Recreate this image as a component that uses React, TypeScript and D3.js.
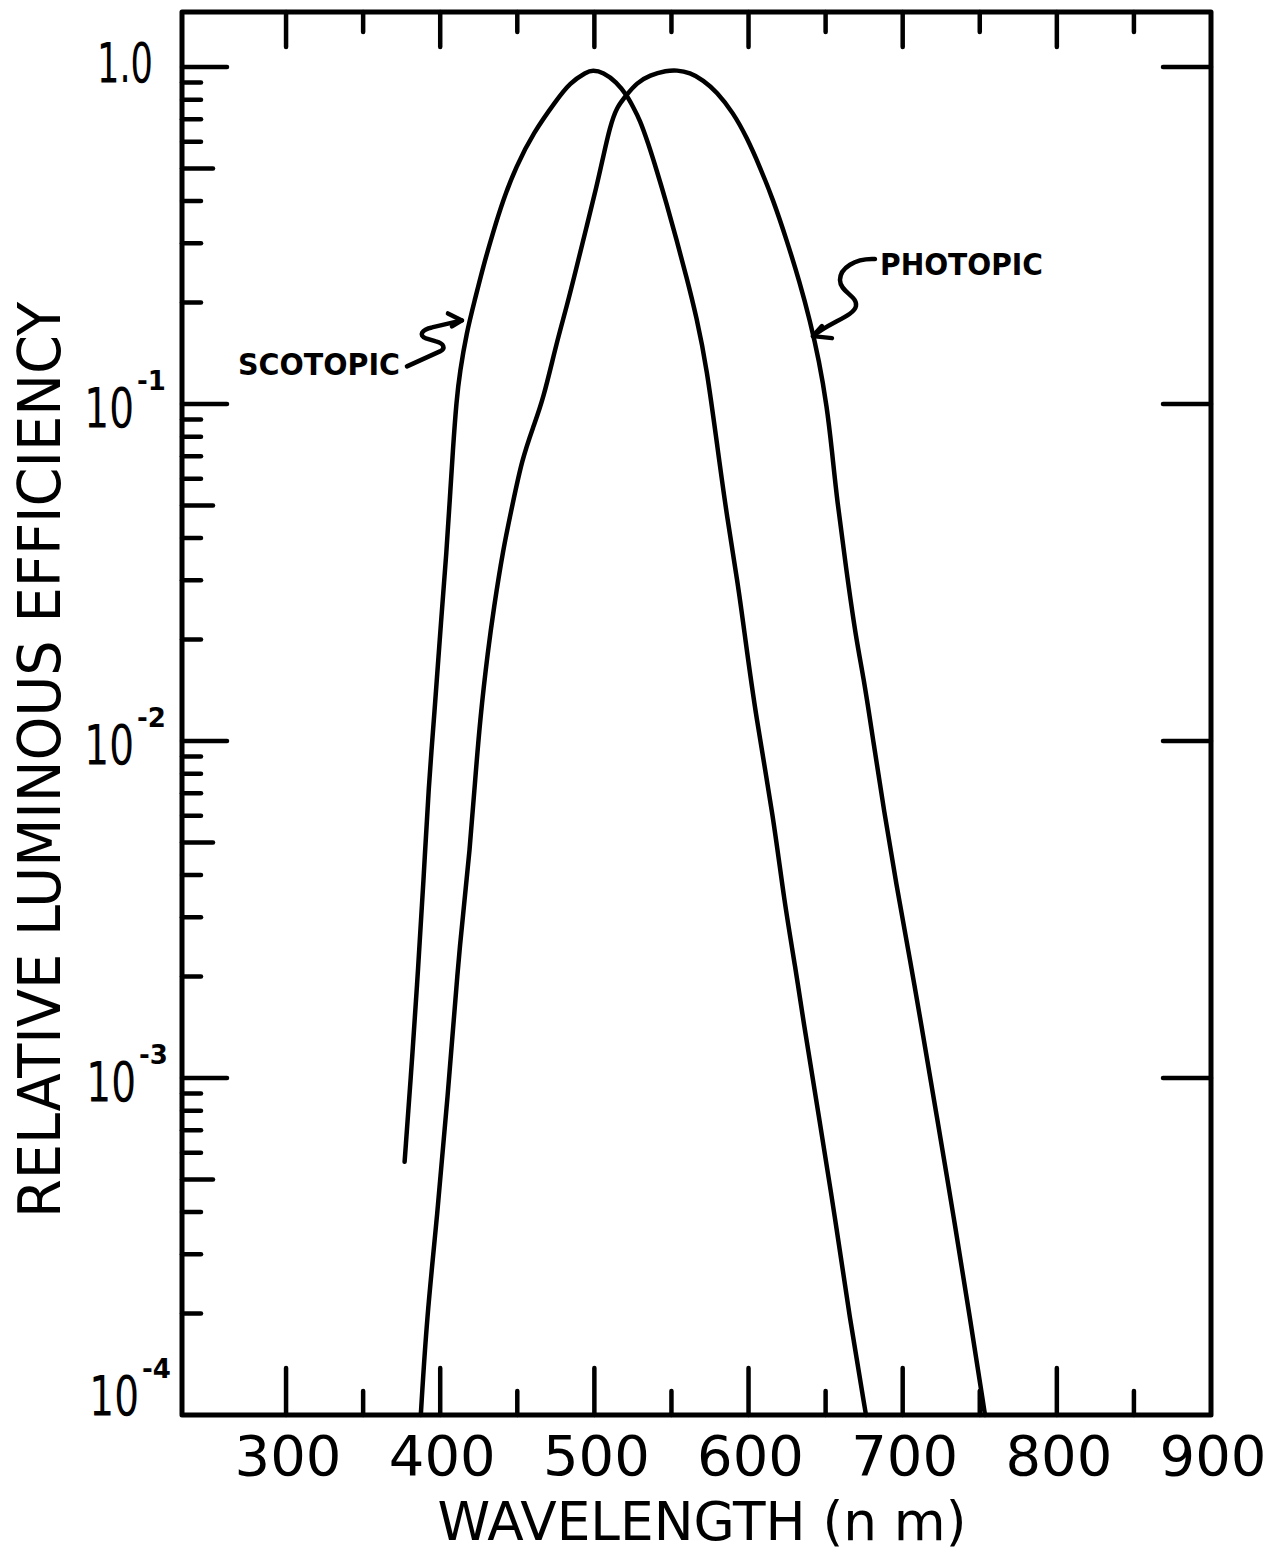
import React from 'react';
import * as d3 from 'd3';

// ---------- data ----------
const scotopicWavelength = [
  376.9, 382.2, 385.6, 389.1, 392.6, 396.1, 400.7, 404.2, 406.2, 408.2, 410.6, 412.7,
  417.1, 422.5, 427.8, 434.1, 440.8, 449.1, 460.3, 475.5, 484.1, 494.9, 498.8, 505.7,
  514.4, 520.9, 525.2, 529.5, 534.9, 540.4, 546.8, 553.3, 559.8, 566.3, 572.8, 580.1,
  586.0, 593.1, 597.7, 604.8, 616.2, 623.0, 630.7, 635.1, 645.7, 656.1, 665.5, 676.2,
];
const scotopicEfficiency = [
  0.000564, 0.00121, 0.00209, 0.00379, 0.0075, 0.0118, 0.0233, 0.0369, 0.0519, 0.0729, 0.103, 0.124,
  0.163, 0.204, 0.255, 0.321, 0.403, 0.505, 0.637, 0.798, 0.897, 0.966, 0.979, 0.966,
  0.902, 0.826, 0.76, 0.697, 0.594, 0.494, 0.394, 0.307, 0.238, 0.181, 0.129, 0.0729,
  0.0462, 0.0294, 0.0204, 0.0118, 0.00594, 0.00337, 0.00209, 0.00152, 0.000766, 0.000387, 0.000195, 0.0001,
];

const photopicWavelength = [
  387.4, 391.3, 398.0, 404.7, 411.8, 414.7, 419.2, 422.5, 426.0, 431.0, 434.6, 440.7,
  447.1, 453.0, 460.3, 466.8, 475.5, 482.0, 488.5, 494.9, 501.4, 505.7, 510.1, 514.4,
  520.9, 527.4, 536.0, 546.8, 553.3, 562.0, 570.6, 579.3, 590.1, 598.8, 607.4, 616.0,
  624.7, 633.3, 639.8, 645.7, 650.9, 654.1, 657.4, 663.2, 669.5, 675.3, 681.1, 687.8,
  695.7, 705.4, 711.2, 722.2, 733.1, 743.6, 753.4,
];
const photopicEfficiency = [
  0.0001, 0.000195, 0.000387, 0.000861, 0.00224, 0.00301, 0.00475, 0.0075, 0.0118, 0.0186, 0.0245, 0.0369,
  0.0508, 0.0682, 0.0855, 0.103, 0.152, 0.194, 0.255, 0.335, 0.441, 0.541, 0.664, 0.76,
  0.826, 0.897, 0.946, 0.975, 0.979, 0.962, 0.914, 0.845, 0.731, 0.619, 0.505, 0.403,
  0.307, 0.229, 0.177, 0.135, 0.098, 0.0729, 0.0519, 0.0328, 0.0204, 0.01486, 0.00986, 0.00624,
  0.00379, 0.00216, 0.00152, 0.000766, 0.000387, 0.000195, 0.0001,
];

const xTickValues = [300, 350, 400, 450, 500, 550, 600, 650, 700, 750, 800, 850];
const xTickLabels = [300, 400, 500, 600, 700, 800, 900];
const yLabelValues = [1, 0.1, 0.01, 0.001, 0.0001];
const yLabelBase = ['1.0', '10', '10', '10', '10'];
const yLabelSup = ['', '-1', '-2', '-3', '-4'];
const yRightTicks = [1, 0.1, 0.01, 0.001];

// annotation anchors (data coordinates of arrow tips)
const scotopicArrowTip = { w: 414.1, v: 0.177 };
const photopicArrowTip = { w: 641.8, v: 0.159 };

export default function App() {
  const W = 1277;
  const H = 1554;
  const x = d3.scaleLinear().domain([232.5, 900]).range([182, 1211]);
  const y = d3.scaleLog().domain([1e-4, 1.456]).range([1415, 12]);
  const [x0, x1] = x.range();
  const [yb, yt] = y.range();

  const line = d3
    .line<[number, number]>()
    .x((d) => x(d[0]))
    .y((d) => y(d[1]))
    .curve(d3.curveBasis);

  const scot: [number, number][] = scotopicWavelength.map((w, i) => [w, scotopicEfficiency[i]]);
  const phot: [number, number][] = photopicWavelength.map((w, i) => [w, photopicEfficiency[i]]);

  const logTicks = y.ticks().filter((v) => v < 1.0001 && v > 1.0001e-4);
  const isMajor = (v: number) => Math.abs(Math.log10(v) - Math.round(Math.log10(v))) < 1e-6;
  const lead = (v: number) => Math.round(v / Math.pow(10, Math.floor(Math.log10(v) + 1e-9)));

  const tickStyle = { stroke: '#000', strokeWidth: 4.5, strokeLinecap: 'round' as const };

  const sTip = [x(scotopicArrowTip.w), y(scotopicArrowTip.v)];
  const pTip = [x(photopicArrowTip.w), y(photopicArrowTip.v)];

  return (
    <svg
      width={W}
      height={H}
      style={{ position: 'absolute', left: 0, top: 0, background: '#fff' }}
      fontFamily="'DejaVu Sans', sans-serif"
    >
      <rect x={0} y={0} width={W} height={H} fill="#fff" />

      {/* left axis ticks */}
      {logTicks.map((v, i) => {
        const len = isMajor(v) ? 45 : lead(v) === 5 ? 31 : 19;
        return <line key={'l' + i} x1={x0} x2={x0 + len} y1={y(v)} y2={y(v)} {...tickStyle} />;
      })}
      {/* right axis ticks */}
      {yRightTicks.map((v, i) => (
        <line key={'r' + i} x1={x1} x2={x1 - 48} y1={y(v)} y2={y(v)} {...tickStyle} />
      ))}
      {/* bottom & top ticks */}
      {xTickValues.map((v, i) => {
        const major = v % 100 === 0;
        return (
          <g key={'x' + i}>
            <line x1={x(v)} x2={x(v)} y1={yb} y2={yb - (major ? 47 : 24)} {...tickStyle} />
            <line x1={x(v)} x2={x(v)} y1={yt} y2={yt + (major ? 35 : 20)} {...tickStyle} />
          </g>
        );
      })}

      {/* frame */}
      <rect
        x={x0}
        y={yt}
        width={x1 - x0}
        height={yb - yt}
        fill="none"
        stroke="#000"
        strokeWidth={5}
        strokeLinejoin="round"
      />

      {/* curves */}
      <path d={line(scot) || ''} fill="none" stroke="#000" strokeWidth={4.5} strokeLinecap="round" strokeLinejoin="round" />
      <path d={line(phot) || ''} fill="none" stroke="#000" strokeWidth={4.5} strokeLinecap="round" strokeLinejoin="round" />

      {/* x tick labels */}
      {xTickLabels.map((v, i) => (
        <text key={'xl' + i} x={x(v) + 2} y={1475} fontSize={56} textAnchor="middle" fill="#000">
          {v}
        </text>
      ))}

      {/* y tick labels */}
      {yLabelValues.map((v, i) => {
        const last = i === yLabelValues.length - 1;
        const first = i === 0;
        const baseline = y(v) + (first ? 15 : last ? 0 : 23);
        const right = first ? 153 : last ? 139 : 134 + (i === 3 ? 2 : 0);
        if (first) {
          return (
            <text
              key={'yl' + i}
              transform={`translate(${right},${baseline}) scale(0.64,1)`}
              fontSize={55}
              textAnchor="end"
              fill="#000"
            >
              {yLabelBase[i]}
            </text>
          );
        }
        return (
          <g key={'yl' + i}>
            <text
              transform={`translate(${right},${baseline}) scale(0.71,1)`}
              fontSize={55}
              textAnchor="end"
              fill="#000"
            >
              {yLabelBase[i]}
            </text>
            <text x={right + 3} y={baseline - 37} fontSize={26} fontWeight="bold" fill="#000">
              {yLabelSup[i]}
            </text>
          </g>
        );
      })}

      {/* axis titles */}
      <text
        transform={`translate(60,760) rotate(-90)`}
        fontSize={59}
        textAnchor="middle"
        textLength={916}
        lengthAdjust="spacingAndGlyphs"
        fill="#000"
      >
        RELATIVE LUMINOUS EFFICIENCY
      </text>
      <text
        x={702}
        y={1540}
        fontSize={54}
        textAnchor="middle"
        textLength={529}
        lengthAdjust="spacingAndGlyphs"
        fill="#000"
      >
        WAVELENGTH (n m)
      </text>

      {/* annotations */}
      <text x={238} y={375} fontSize={31} fontWeight="bold" textLength={162} lengthAdjust="spacingAndGlyphs" fill="#000">
        SCOTOPIC
      </text>
      <g transform={`translate(${sTip[0]},${sTip[1]})`} fill="none" stroke="#000" strokeWidth={4.5} strokeLinecap="round" strokeLinejoin="round">
        <path d="M-55,46 L-22,31 C-16,28 -18,23 -26,21 L-36,18 C-44,15 -40,9 -30,7 L0,0" />
        <path d="M-14,-7 L0,0 L-10,6" />
      </g>

      <text x={880} y={275} fontSize={31} fontWeight="bold" textLength={163} lengthAdjust="spacingAndGlyphs" fill="#000">
        PHOTOPIC
      </text>
      <g transform={`translate(${pTip[0]},${pTip[1]})`} fill="none" stroke="#000" strokeWidth={4.5} strokeLinecap="round" strokeLinejoin="round">
        <path d="M62,-77 C42,-78 27,-68 27,-56 C27,-44 45,-40 43,-30 C41,-20 17,-14 0,0" />
        <path d="M9,-10 L0,0 L19,2" />
      </g>
    </svg>
  );
}
